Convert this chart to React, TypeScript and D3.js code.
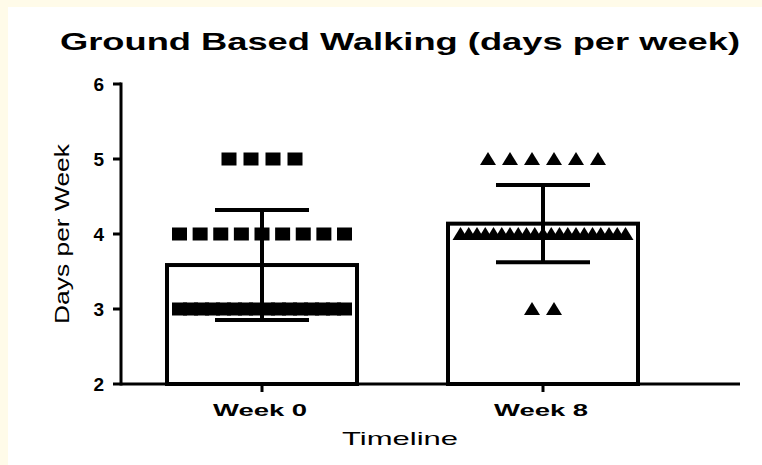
import React, { useEffect, useRef } from 'react';
import * as d3 from 'd3';

const categories = ['Week 0', 'Week 8'];
const week0 = [5, 5, 5, 5, 4, 4, 4, 4, 4, 4, 4, 4, 4, 3, 3, 3, 3, 3, 3, 3, 3, 3, 3, 3, 3, 3, 3, 3, 3];
const week8 = [5, 5, 5, 5, 5, 5, 4, 4, 4, 4, 4, 4, 4, 4, 4, 4, 4, 4, 4, 4, 4, 4, 4, 4, 4, 4, 4, 3, 3];
const yTicks = [2, 3, 4, 5, 6];

const W = 762;
const H = 465;

const App: React.FC = () => {
  const svgRef = useRef<SVGSVGElement | null>(null);

  useEffect(() => {
    const svg = d3.select(svgRef.current);
    svg.selectAll('*').remove();

    const font = '"Liberation Sans", Arial, sans-serif';

    // background: cream strip top/left, white panel
    svg.append('rect').attr('width', W).attr('height', H).attr('fill', '#fffbe9');
    svg.append('rect').attr('x', 8).attr('y', 7).attr('width', W - 8).attr('height', H - 7).attr('fill', '#ffffff');

    const x = d3.scalePoint<string>().domain(categories).range([262, 543]);
    const y = d3.scaleLinear().domain([2, 6]).range([384, 84]);
    const axisLeftX = 121;
    const axisRight = 740;
    const barHalf = 95;

    const groups = [
      { name: categories[0], values: week0, shape: 'square' },
      { name: categories[1], values: week8, shape: 'triangle' },
    ];

    // bars
    groups.forEach(g => {
      const m = d3.mean(g.values)!;
      const cx = x(g.name)!;
      svg.append('rect')
        .attr('x', cx - barHalf)
        .attr('y', y(m))
        .attr('width', barHalf * 2)
        .attr('height', y(2) - y(m))
        .attr('fill', '#fff')
        .attr('stroke', '#000')
        .attr('stroke-width', 4);
    });

    // points, spread sideways like a scatter dot plot
    const maxSpread = 165;
    const baseStep = 22;
    groups.forEach(g => {
      const cx = x(g.name)!;
      const counts = d3.rollups(g.values, v => v.length, d => d);
      counts.forEach(([val, n]) => {
        const step = n > 1 ? Math.min(baseStep, maxSpread / (n - 1)) : 0;
        d3.range(n).forEach(i => {
          const px = cx + (i - (n - 1) / 2) * step;
          const py = y(val);
          if (g.shape === 'square') {
            svg.append('rect')
              .attr('x', px - 7.5).attr('y', py - 6.5)
              .attr('width', 15).attr('height', 13)
              .attr('fill', '#000');
          } else {
            svg.append('path')
              .attr('d', `M${px},${py - 7}L${px + 8},${py + 6}L${px - 8},${py + 6}Z`)
              .attr('fill', '#000');
          }
        });
      });
    });

    // error bars (mean ± SD)
    groups.forEach(g => {
      const m = d3.mean(g.values)!;
      const sd = d3.deviation(g.values)!;
      const cx = x(g.name)!;
      const capHalf = 47;
      const ge = svg.append('g').attr('stroke', '#000').attr('stroke-width', 4);
      ge.append('line').attr('x1', cx).attr('x2', cx).attr('y1', y(m + sd)).attr('y2', y(m - sd));
      [m + sd, m - sd].forEach(v => {
        ge.append('line').attr('x1', cx - capHalf).attr('x2', cx + capHalf).attr('y1', y(v)).attr('y2', y(v));
      });
    });

    // y axis
    const ya = svg.append('g').attr('stroke', '#000').attr('stroke-width', 3);
    ya.append('line').attr('x1', axisLeftX).attr('x2', axisLeftX).attr('y1', y(6) - 1.5).attr('y2', y(2) + 1.5);
    yTicks.forEach(t => {
      ya.append('line').attr('x1', axisLeftX - 8).attr('x2', axisLeftX).attr('y1', y(t)).attr('y2', y(t));
    });
    svg.append('g').selectAll('text').data(yTicks).join('text')
      .attr('x', 104).attr('y', d => y(d)).attr('dy', '0.36em')
      .attr('text-anchor', 'end')
      .attr('font-family', font).attr('font-weight', 'bold').attr('font-size', 19)
      .text(d => d);

    // x axis
    const xa = svg.append('g').attr('stroke', '#000').attr('stroke-width', 3);
    xa.append('line').attr('x1', axisLeftX).attr('x2', axisRight).attr('y1', y(2)).attr('y2', y(2));
    categories.forEach(c => {
      xa.append('line').attr('x1', x(c)!).attr('x2', x(c)!).attr('y1', y(2)).attr('y2', y(2) + 8);
    });
    svg.append('g').selectAll('text').data(categories).join('text')
      .attr('x', d => x(d)! - 2).attr('y', 416)
      .attr('text-anchor', 'middle')
      .attr('font-family', font).attr('font-weight', 'bold').attr('font-size', 16)
      .attr('textLength', 94).attr('lengthAdjust', 'spacingAndGlyphs')
      .text(d => d);

    // axis titles
    svg.append('text')
      .attr('x', 400).attr('y', 445)
      .attr('text-anchor', 'middle')
      .attr('font-family', font).attr('font-size', 19)
      .attr('textLength', 116).attr('lengthAdjust', 'spacingAndGlyphs')
      .text('Timeline');
    svg.append('text')
      .attr('transform', 'translate(69,234) rotate(-90)')
      .attr('text-anchor', 'middle')
      .attr('font-family', font).attr('font-size', 20)
      .attr('textLength', 180).attr('lengthAdjust', 'spacingAndGlyphs')
      .text('Days per Week');

    // title
    svg.append('text')
      .attr('x', 400).attr('y', 50)
      .attr('text-anchor', 'middle')
      .attr('font-family', font).attr('font-weight', 'bold').attr('font-size', 24)
      .attr('textLength', 680).attr('lengthAdjust', 'spacingAndGlyphs')
      .text('Ground Based Walking (days per week)');
  }, []);

  return (
    <svg ref={svgRef} width={W} height={H} style={{ position: 'absolute', left: 0, top: 0 }}></svg>
  );
};

export default App;
